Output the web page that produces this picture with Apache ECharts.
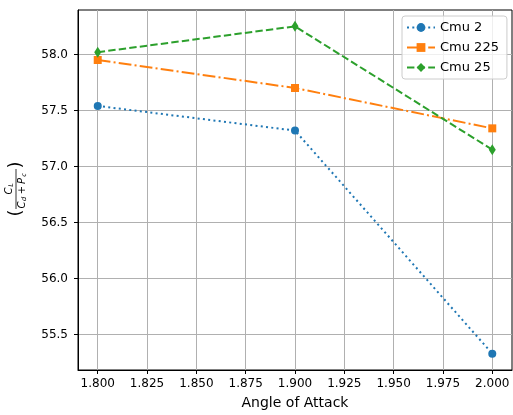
<!DOCTYPE html>
<html><head><meta charset="utf-8">
<script src="https://cdn.jsdelivr.net/npm/echarts@6/dist/echarts.min.js"></script>
<style>html,body{margin:0;padding:0;background:#fff}#c{width:513px;height:415px}</style>
</head><body><div id="c"></div>
<script>
const angles = [1.8, 1.9, 2.0];
const cmu2 = [57.54, 57.32, 55.33];
const cmu225 = [57.95, 57.70, 57.34];
const cmu25 = [58.02, 58.25, 57.15];
const xTicks = [1.8, 1.825, 1.85, 1.875, 1.9, 1.925, 1.95, 1.975, 2.0];
const yTicks = [55.5, 56.0, 56.5, 57.0, 57.5, 58.0];
const seriesNames = ['Cmu 2', 'Cmu 225', 'Cmu 25'];

const FONT = 'DejaVu Sans';
const pair = (vals) => angles.map((a, i) => [a, vals[i]]);
const chart = echarts.init(document.getElementById('c'), null, {renderer: 'canvas'});

function t(x, y, s, size, italic) {
  return {type: 'text', x: x, y: y, style: {text: s, fontSize: size, fontFamily: FONT,
    fontStyle: italic ? 'italic' : 'normal', fill: '#000', align: 'center', verticalAlign: 'middle'}};
}

chart.setOption({
  animation: false,
  grid: {left: 78, right: 1, top: 10, bottom: 45, show: true, borderColor: '#000', borderWidth: 1, backgroundColor: 'transparent'},
  legend: {
    left: 402, top: 16, orient: 'vertical', itemWidth: 28, itemHeight: 11, itemGap: 7,
    backgroundColor: 'rgba(255,255,255,0.8)', borderColor: '#cccccc', borderWidth: 1, borderRadius: 3,
    padding: [5, 8, 5, 4],
    textStyle: {fontFamily: FONT, fontSize: 13, color: '#000'},
    data: seriesNames
  },
  xAxis: {
    type: 'value', min: 1.79, max: 2.01,
    name: 'Angle of Attack', nameLocation: 'middle', nameGap: 26,
    nameTextStyle: {fontFamily: FONT, fontSize: 14, color: '#000'},
    axisLine: {show: true, onZero: false, lineStyle: {color: '#000', width: 1}},
    axisTick: {show: true, length: 4, customValues: xTicks, lineStyle: {color: '#000'}},
    axisLabel: {customValues: xTicks, fontFamily: FONT, fontSize: 12, color: '#000', margin: 8,
      formatter: v => Number(v).toFixed(3)},
    splitLine: {show: true, lineStyle: {color: '#b0b0b0', width: 1}}
  },
  yAxis: {
    type: 'value', min: 55.184, max: 58.396,
    axisLine: {show: true, onZero: false, lineStyle: {color: '#000', width: 1}},
    axisTick: {show: true, length: 4, customValues: yTicks, lineStyle: {color: '#000'}},
    axisLabel: {customValues: yTicks, fontFamily: FONT, fontSize: 12, color: '#000', margin: 10,
      formatter: v => Number(v).toFixed(1)},
    splitLine: {show: true, lineStyle: {color: '#b0b0b0', width: 1}}
  },
  series: [
    {name: seriesNames[0], type: 'line', data: pair(cmu2), symbol: 'circle', symbolSize: 8,
      color: '#1f77b4', lineStyle: {width: 2, type: [2, 3.3]}, itemStyle: {color: '#1f77b4'}},
    {name: seriesNames[1], type: 'line', data: pair(cmu225), symbol: 'rect', symbolSize: 8,
      color: '#ff7f0e', lineStyle: {width: 2, type: [12.8, 3.2, 2, 3.2]}, itemStyle: {color: '#ff7f0e'}},
    {name: seriesNames[2], type: 'line', data: pair(cmu25), symbol: 'diamond', symbolSize: [7, 11],
      color: '#2ca02c', lineStyle: {width: 2, type: [7.4, 3.2]}, itemStyle: {color: '#2ca02c'}}
  ],
  graphic: [{
    type: 'group', x: 16, y: 189, rotation: Math.PI / 2,
    children: [
      t(-24, 0, '(', 18, false),
      t(24, 0, ')', 18, false),
      t(-2, -6.5, 'C', 10, true),
      t(4, -4.5, 'L', 6.5, true),
      {type: 'line', shape: {x1: -20, y1: 0, x2: 20, y2: 0}, style: {stroke: '#000', lineWidth: 0.8}},
      t(-16, 6.5, 'C', 10, true),
      t(-10, 8.5, 'd', 6.5, true),
      t(-1, 6.5, '+', 10, false),
      t(8, 6.5, 'P', 10, true),
      t(14, 8.5, 'c', 6.5, true)
    ]
  }]
});
</script></body></html>
